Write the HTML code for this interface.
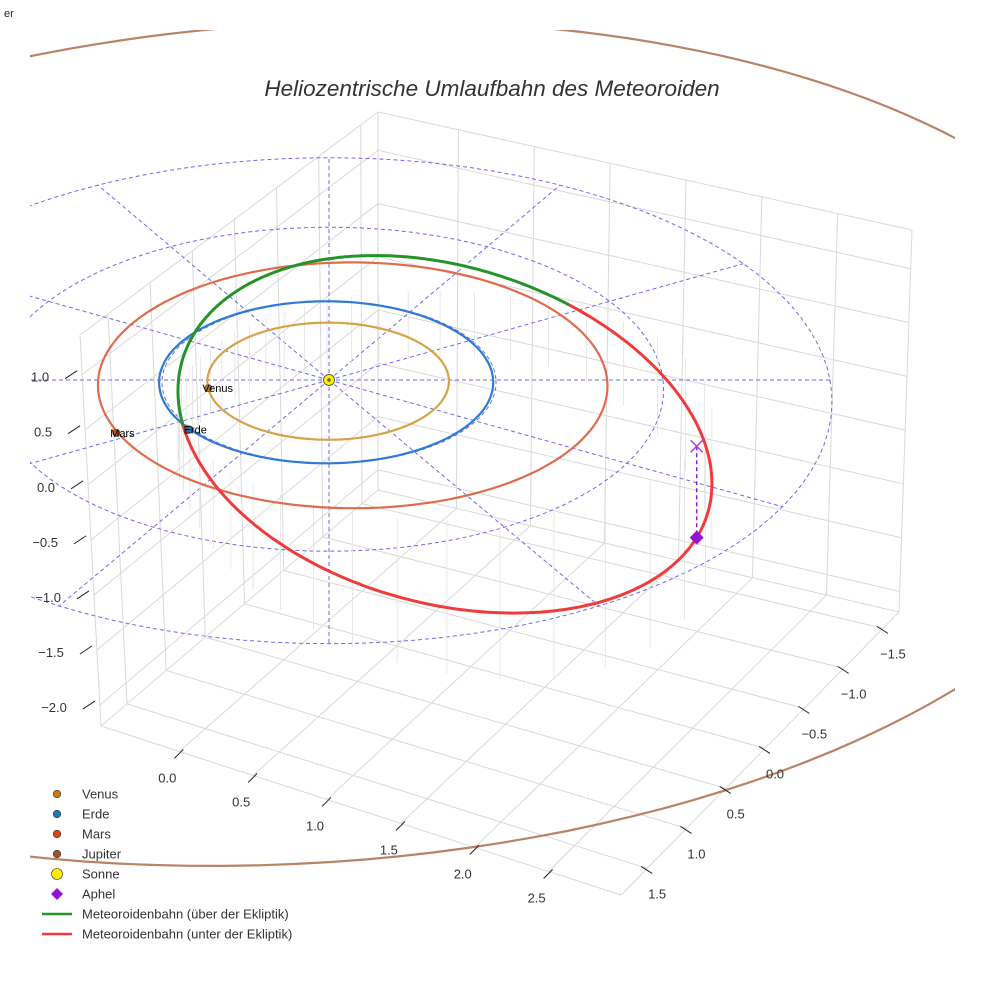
<!DOCTYPE html>
<html><head><meta charset="utf-8"><style>
html,body{margin:0;padding:0;background:#fff;}
svg{display:block;font-family:"Liberation Sans",sans-serif;}
</style></head><body>
<svg id="chart" width="984" height="984" viewBox="0 0 984 984" xmlns="http://www.w3.org/2000/svg">
<defs><clipPath id="clip"><rect x="30" y="30" width="925" height="940"/></clipPath></defs>
<text x="4" y="17" font-size="11" fill="#222">er</text>
<text x="492" y="96" font-size="22.5" font-style="italic" fill="#333" text-anchor="middle">Heliozentrische Umlaufbahn des Meteoroiden</text>
<g id="grid"></g>
<g id="plot" clip-path="url(#clip)"></g>
<g id="axes"></g>
<g id="legend"></g>
</svg>
<script>
// ---- data ----
const xTicks = [0.0, 0.5, 1.0, 1.5, 2.0, 2.5];
const yTicks = [-1.5, -1.0, -0.5, 0.0, 0.5, 1.0, 1.5];
const zTicks = [-2.0, -1.5, -1.0, -0.5, 0.0, 0.5, 1.0];
const planetNames = ["Venus", "Erde", "Mars", "Jupiter"];
const planetA = [0.723, 1.0, 1.524, 5.2];
const planetE = [0.007, 0.017, 0.093, 0.048];
const planetPeri = [0, 0, 180, 0];
const planetIncl = [0, 0, 0, 3.8];
const planetPosX = [-0.72, -0.82, -1.25];
const planetPosY = [0.10, 0.60, 0.64];
const gridRadii = [1, 2, 3];
const gridAngles = [0, 30, 60, 90, 120, 150, 180, 210, 240, 270, 300, 330];
const aphelion = [2.15, 0.8, -0.83];
const impactNode = [-0.86, 0.55, 0];

const NS = "http://www.w3.org/2000/svg";
function mk(tag, attrs, parent) {
  const el = document.createElementNS(NS, tag);
  for (const k in attrs) el.setAttribute(k, attrs[k]);
  parent.appendChild(el);
  return el;
}
function proj(X, Y, Z) {
  return [329 + 167 * X * (1 + 0.03 * Y), 380 + 81 * Y + 2.3 * Y * Y - 110 * Z];
}
function pathFrom(pts) {
  return pts.map((p, i) => (i ? "L" : "M") + p[0].toFixed(1) + " " + p[1].toFixed(1)).join("");
}
const grid = document.getElementById("grid");
const plot = document.getElementById("plot");
const axes = document.getElementById("axes");
const legend = document.getElementById("legend");

// ---- 3D box (screen corners) ----
const L = [101, 726], F = [621, 895], R = [899, 612], B = [378, 490];
const Bt = [378, 112], Lt = [80, 335], Rt = [912, 230];
function bil(P00, P10, P01, P11, u, v) {
  return [
    (1 - u) * (1 - v) * P00[0] + u * (1 - v) * P10[0] + (1 - u) * v * P01[0] + u * v * P11[0],
    (1 - u) * (1 - v) * P00[1] + u * (1 - v) * P10[1] + (1 - u) * v * P01[1] + u * v * P11[1]
  ];
}
const xU = x => (x + 0.53) / 3.52;
const yV = y => 0.094 + (1.5 - y) * 0.2827;
const zT = z => (z + 2.19) / 3.55;
function gline(a, b, name) {
  const l = mk("line", {x1: a[0], y1: a[1], x2: b[0], y2: b[1], stroke: "#d9d9d9", "stroke-width": 1}, grid);
  
  
}
xTicks.forEach(x => { const u = xU(x); gline(bil(L, F, B, R, u, 0), bil(L, F, B, R, u, 1), "floor-gridline-x"); });
yTicks.forEach(y => { const v = yV(y); gline(bil(L, F, B, R, 0, v), bil(L, F, B, R, 1, v), "floor-gridline-y"); });
yTicks.forEach(y => { const v = yV(y); gline(bil(L, B, Lt, Bt, v, 0), bil(L, B, Lt, Bt, v, 1), "left-wall-gridline-y"); });
zTicks.forEach(z => { const t = zT(z); gline(bil(L, B, Lt, Bt, 0, t), bil(L, B, Lt, Bt, 1, t), "left-wall-gridline-z"); });
xTicks.forEach(x => { const u = xU(x); gline(bil(B, R, Bt, Rt, u, 0), bil(B, R, Bt, Rt, u, 1), "right-wall-gridline-x"); });
zTicks.forEach(z => { const t = zT(z); gline(bil(B, R, Bt, Rt, 0, t), bil(B, R, Bt, Rt, 1, t), "right-wall-gridline-z"); });
[[L, F], [F, R], [R, B], [B, L], [B, Bt], [L, Lt], [R, Rt], [Lt, Bt], [Bt, Rt]].forEach(e => gline(e[0], e[1], "box-edge"));

// ---- tick labels ----
function tick(a, dir, label, lx, ly, anchor, name) {
  const t = mk("line", {x1: a[0], y1: a[1], x2: a[0] + dir[0], y2: a[1] + dir[1], stroke: "#222", "stroke-width": 1}, axes);
  
  
  const tx = mk("text", {x: lx, y: ly, "font-size": 13, fill: "#333", "text-anchor": anchor}, axes);
  tx.textContent = label.replace("-", "\u2212");
  
  
}
xTicks.forEach(x => {
  const p = bil(L, F, B, R, xU(x), 0);
  tick([p[0] + 4, p[1] - 2], [-9, 9], x.toFixed(1), p[0] - 12, p[1] + 31, "middle", "x-tick");
});
yTicks.forEach(y => {
  const p = bil(L, F, B, R, 1, yV(y));
  tick([p[0] - 6, p[1] - 2], [11, 7], y.toFixed(1), p[0] + 10, p[1] + 30, "middle", "y-tick");
});
zTicks.forEach(z => {
  const p = bil(L, B, Lt, Bt, 0, zT(z));
  tick([p[0] - 5, p[1] - 4], [-12, 8], z.toFixed(1), p[0] - 33, p[1] + 7, "end", "z-tick");
});

// ---- ecliptic grid ----
gridRadii.forEach(r => {
  const pts = [];
  for (let d = 0; d <= 360; d += 3) { const a = d * Math.PI / 180; pts.push(proj(r * Math.cos(a), r * Math.sin(a), 0)); }
  const c = mk("path", {d: pathFrom(pts), fill: "none", stroke: "#6b6be6", "stroke-width": 1, "stroke-dasharray": "4 3"}, plot);
  
  
});
gridAngles.forEach(d => {
  const a = d * Math.PI / 180, r = gridRadii[gridRadii.length - 1];
  const pts = [];
  for (let s = 0; s <= 10; s++) pts.push(proj(r * s / 10 * Math.cos(a), r * s / 10 * Math.sin(a), 0));
  const l = mk("path", {d: pathFrom(pts), fill: "none", stroke: "#6b6be6", "stroke-width": 1, "stroke-dasharray": "4 3"}, plot);
  
  
});

// ---- meteoroid orbit geometry ----
function sub(a, b) { return [a[0] - b[0], a[1] - b[1], a[2] - b[2]]; }
function dot(a, b) { return a[0] * b[0] + a[1] * b[1] + a[2] * b[2]; }
function nrm(a) { const l = Math.sqrt(dot(a, a)); return [a[0] / l, a[1] / l, a[2] / l]; }
const Q = Math.sqrt(dot(aphelion, aphelion));
const e1 = nrm([-aphelion[0], -aphelion[1], -aphelion[2]]);
const rN = Math.sqrt(dot(impactNode, impactNode));
const nU = nrm(impactNode);
const cth = dot(nU, e1);
const e2 = nrm(sub(nU, [e1[0] * cth, e1[1] * cth, e1[2] * cth]));
const ecc = (Q - rN) / (rN * cth + Q);
const pp = Q * (1 - ecc);
function met(th) {
  const r = pp / (1 + ecc * Math.cos(th));
  return [r * (Math.cos(th) * e1[0] + Math.sin(th) * e2[0]), r * (Math.cos(th) * e1[1] + Math.sin(th) * e2[1]), r * (Math.cos(th) * e1[2] + Math.sin(th) * e2[2])];
}
for (let d = 0; d < 360; d += 8) {
  const p = met(d * Math.PI / 180);
  const top = proj(p[0], p[1], 0);
  const bot = proj(p[0], p[1], Math.min(p[2], 0) - 0.6);
  const s = mk("line", {x1: top[0], y1: top[1], x2: bot[0], y2: bot[1], stroke: "#e2e2e2", "stroke-width": 0.8}, plot);
  
  
}

// ---- planet orbits ----
const orbitColors = ["#d6a24a", "#2f7ad2", "#df6c4c", "#b88368"];
planetNames.forEach((n, i) => {
  const pts = [];
  const ti = Math.tan(planetIncl[i] * Math.PI / 180);
  for (let d = 0; d <= 360; d += 2) {
    const a = d * Math.PI / 180, w = planetPeri[i] * Math.PI / 180;
    const r = planetA[i] * (1 - planetE[i] ** 2) / (1 + planetE[i] * Math.cos(a - w));
    const X = r * Math.cos(a), Y = r * Math.sin(a);
    pts.push(proj(X, Y, X * ti));
  }
  const o = mk("path", {d: pathFrom(pts), fill: "none", stroke: orbitColors[i], "stroke-width": 2.2}, plot);
  
  
});

let seg = [], segs = [];
let prevSign = null;
for (let d = 0; d <= 360; d += 1) {
  const p = met(d * Math.PI / 180);
  const sgn = p[2] >= 0;
  const sp = proj(p[0], p[1], p[2]);
  if (prevSign !== null && sgn !== prevSign) { seg.push(sp); segs.push([prevSign, seg]); seg = []; }
  seg.push(sp); prevSign = sgn;
}
segs.push([prevSign, seg]);
segs.forEach(s => {
  const m = mk("path", {d: pathFrom(s[1]), fill: "none", stroke: s[0] ? "#24932a" : "#ef3b3b", "stroke-width": 3, "stroke-linecap": "round"}, plot);
  
  
});

const apS = proj(aphelion[0], aphelion[1], aphelion[2]);
const apE = proj(aphelion[0], aphelion[1], 0);
const al = mk("line", {x1: apE[0], y1: apE[1], x2: apS[0], y2: apS[1], stroke: "#8a1fc4", "stroke-width": 1.5, "stroke-dasharray": "4 3"}, plot);


const ax = mk("path", {d: `M${apE[0]-6} ${apE[1]-6}L${apE[0]+6} ${apE[1]+6}M${apE[0]+6} ${apE[1]-6}L${apE[0]-6} ${apE[1]+6}`, stroke: "#a040e0", "stroke-width": 1.5}, plot);


const ad = mk("path", {d: `M${apS[0]} ${apS[1]-7}L${apS[0]+7} ${apS[1]}L${apS[0]} ${apS[1]+7}L${apS[0]-7} ${apS[1]}Z`, fill: "#9414d4"}, plot);



const planetColors = ["#c9781a", "#1f77b4", "#d9460f"];
planetPosX.forEach((x, i) => {
  const p = proj(x, planetPosY[i], 0);
  const c = mk("circle", {cx: p[0], cy: p[1], r: 3.5, fill: planetColors[i], stroke: "#333", "stroke-width": 0.6}, plot);
  
  
  const t = mk("text", {x: p[0] - 6, y: p[1] + 4, "font-size": 11, fill: "#000"}, plot);
  t.textContent = planetNames[i];
  
  
});
const sun = proj(0, 0, 0);
const sc = mk("circle", {cx: sun[0], cy: sun[1], r: 5.5, fill: "#ffee00", stroke: "#333", "stroke-width": 0.8}, plot);


const sd = mk("circle", {cx: sun[0], cy: sun[1], r: 1.8, fill: "#666"}, plot);



const legNames = ["Venus", "Erde", "Mars", "Jupiter", "Sonne", "Aphel", "Meteoroidenbahn (über der Ekliptik)", "Meteoroidenbahn (unter der Ekliptik)"];
const legColors = ["#c9781a", "#1f77b4", "#d9460f", "#a0522d", "#ffee00", "#9414d4", "#24932a", "#ef3b3b"];
legNames.forEach((n, i) => {
  const y = 794 + i * 20;
  const g = mk("g", {}, legend);
  
  
  if (i < 5) mk("circle", {cx: 57, cy: y, r: i === 4 ? 5.5 : 3.8, fill: legColors[i], stroke: "#333", "stroke-width": 0.6}, g);
  else if (i === 5) mk("path", {d: `M57 ${y-6}L63 ${y}L57 ${y+6}L51 ${y}Z`, fill: legColors[i]}, g);
  else mk("line", {x1: 42, y1: y, x2: 72, y2: y, stroke: legColors[i], "stroke-width": 2.5}, g);
  const t = mk("text", {x: 82, y: y + 4.5, "font-size": 13, fill: "#333"}, g);
  t.textContent = n;
});
</script>
</body></html>
